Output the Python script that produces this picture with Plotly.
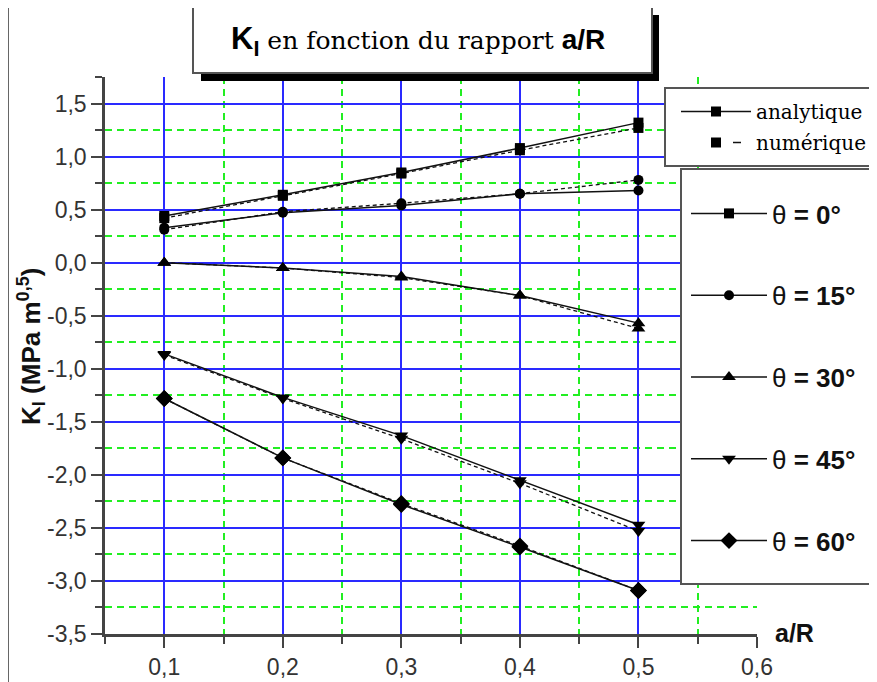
import plotly.graph_objects as go

# ---------------- data ----------------
ratio = [0.1, 0.2, 0.3, 0.4, 0.5]

ana_0 = [0.44, 0.64, 0.85, 1.08, 1.32]
num_0 = [0.42, 0.63, 0.84, 1.06, 1.27]
ana_15 = [0.33, 0.47, 0.54, 0.65, 0.68]
num_15 = [0.31, 0.48, 0.56, 0.65, 0.78]
ana_30 = [0.00, -0.05, -0.13, -0.31, -0.57]
num_30 = [0.00, -0.05, -0.14, -0.31, -0.62]
ana_45 = [-0.86, -1.27, -1.63, -2.05, -2.47]
num_45 = [-0.87, -1.28, -1.66, -2.08, -2.53]
ana_60 = [-1.28, -1.84, -2.28, -2.68, -3.09]
num_60 = [-1.28, -1.84, -2.27, -2.67, -3.09]

theta_names = ["θ<b> = 0°</b>", "θ<b> = 15°</b>", "θ<b> = 30°</b>", "θ<b> = 45°</b>", "θ<b> = 60°</b>"]

x_tickvals = [0.1, 0.2, 0.3, 0.4, 0.5, 0.6]
x_ticktext = ["0,1", "0,2", "0,3", "0,4", "0,5", "0,6"]
x_minorvals = [0.05, 0.15, 0.25, 0.35, 0.45, 0.55]
y_tickvals = [1.5, 1.0, 0.5, 0.0, -0.5, -1.0, -1.5, -2.0, -2.5, -3.0, -3.5]
y_ticktext = ["1,5", "1,0", "0,5", "0,0", "-0,5", "-1,0", "-1,5", "-2,0", "-2,5", "-3,0", "-3,5"]
y_minorvals = [1.75, 1.25, 0.75, 0.25, -0.25, -0.75, -1.25, -1.75, -2.25, -2.75, -3.25]

# ---------------- geometry (screen pixels; page body has an 8px margin) ----------------
OFF = 8
W, H = 877 - OFF, 682 - OFF
L, R, T, B = 105, 757, 77, 634  # plot area in screen pixels
def px(x):
    return (x - L) / (R - L)
def py(y):
    return (B - y) / (B - T)

analytic = [ana_0, ana_15, ana_30, ana_45, ana_60]
numeric = [num_0, num_15, num_30, num_45, num_60]
symbols = ["square", "circle", "triangle-up", "triangle-down", "diamond"]
sizes = [10, 10, 12, 12, 13]

fig = go.Figure()
for i in range(5):
    fig.add_trace(go.Scatter(
        x=ratio, y=numeric[i], mode="lines+markers",
        line=dict(color="#111111", width=1.3, dash="4px,3px"),
        marker=dict(symbol=symbols[i], size=sizes[i], color="black"),
        showlegend=False, hoverinfo="skip"))
    fig.add_trace(go.Scatter(
        x=ratio, y=analytic[i], mode="lines+markers",
        line=dict(color="#111111", width=1.5),
        marker=dict(symbol=symbols[i], size=sizes[i], color="black"),
        name=theta_names[i], legend="legend2", legendgroup="g%d" % i,
        showlegend=True))

# legend-only entries for the method legend
fig.add_trace(go.Scatter(x=[None], y=[None], mode="lines+markers", name="analytique",
                         line=dict(color="#111111", width=1.5),
                         marker=dict(symbol="square", size=10, color="black"),
                         legend="legend", legendgroup="m1"))
fig.add_trace(go.Scatter(x=[None], y=[None], mode="lines+markers", name="numérique",
                         line=dict(color="#111111", width=1.5, dash="0px,52px,8px,200px"),
                         marker=dict(symbol="square", size=10, color="black"),
                         legend="legend", legendgroup="m2"))

grid_blue = "#2a2aff"
grid_green = "#22ee22"
axis_col = "#444444"

shapes = []
# window frame lines
shapes.append(dict(type="line", xref="paper", yref="paper", x0=px(8), x1=px(900), y0=py(7), y1=py(7),
                   line=dict(color="#666666", width=2), layer="above"))
shapes.append(dict(type="line", xref="paper", yref="paper", x0=px(8), x1=px(8), y0=py(7), y1=py(700),
                   line=dict(color="#666666", width=2), layer="above"))
# title box with shadow
shapes.append(dict(type="rect", xref="paper", yref="paper", x0=px(201), x1=px(659), y0=py(15), y1=py(81),
                   fillcolor="black", line=dict(width=0), layer="above"))
shapes.append(dict(type="rect", xref="paper", yref="paper", x0=px(193), x1=px(652), y0=py(7), y1=py(73),
                   fillcolor="white", line=dict(color="#555555", width=2), layer="above"))
# legend boxes
shapes.append(dict(type="rect", xref="paper", yref="paper", x0=px(665), x1=px(890), y0=py(88), y1=py(166),
                   fillcolor="white", line=dict(color="#555555", width=2), layer="above"))
shapes.append(dict(type="rect", xref="paper", yref="paper", x0=px(681), x1=px(875), y0=py(169), y1=py(584),
                   fillcolor="white", line=dict(color="#555555", width=2), layer="above"))

annotations = [
    dict(xref="paper", yref="paper", x=px(418), y=py(41), xanchor="center", yanchor="middle", showarrow=False,
         text='<span style="font-family:Liberation Sans;font-weight:bold;font-size:31px">K<sub>I</sub></span>'
              '<span style="font-family:DejaVu Serif;font-size:25px"> en fonction du rapport </span>'
              '<span style="font-family:Liberation Sans;font-weight:bold;font-size:28px">a/R</span>',
         font=dict(color="black", size=25)),
    dict(xref="paper", yref="paper", x=px(31), y=py(346), xanchor="center", yanchor="middle", showarrow=False,
         textangle=-90, text="<b>K<sub>I</sub> (MPa m<sup>0,5</sup>)</b>",
         font=dict(family="Liberation Sans", size=26, color="#111111")),
    dict(xref="paper", yref="paper", x=px(773), y=py(633), xanchor="left", yanchor="middle", showarrow=False,
         text="<b>a/R</b>", font=dict(family="Liberation Sans", size=25, color="#111111")),
]

fig.update_layout(
    width=W, height=H,
    margin=dict(l=L - OFF, r=W - (R - OFF), t=T - OFF, b=H - (B - OFF), autoexpand=False),
    paper_bgcolor="white", plot_bgcolor="white",
    shapes=shapes, annotations=annotations,
    legend=dict(x=px(676), y=py(92), xanchor="left", yanchor="top",
                bgcolor="rgba(0,0,0,0)", borderwidth=0, itemwidth=70, tracegroupgap=2,
                font=dict(family="DejaVu Serif", size=20, color="black")),
    legend2=dict(x=px(686), y=py(190), xanchor="left", yanchor="top",
                 bgcolor="rgba(0,0,0,0)", borderwidth=0, itemwidth=76, tracegroupgap=45,
                 font=dict(family="Liberation Sans", size=26, color="#111111")),
    xaxis=dict(range=[0.05, 0.6], tickvals=x_tickvals, ticktext=x_ticktext,
               showgrid=True, gridcolor=grid_blue, gridwidth=2, zeroline=False,
               showline=True, linecolor=axis_col, linewidth=2.5,
               ticks="outside", ticklen=11, tickwidth=2, tickcolor=axis_col,
               tickfont=dict(family="Liberation Sans", size=23, color="#333333"),
               minor=dict(tickvals=x_minorvals, ticks="outside", ticklen=7, tickwidth=2, tickcolor=axis_col,
                          showgrid=True, gridcolor=grid_green, gridwidth=2, griddash="7px,5px")),
    yaxis=dict(range=[-3.5, 1.75], tickvals=y_tickvals, ticktext=y_ticktext,
               showgrid=True, gridcolor=grid_blue, gridwidth=2, zeroline=False,
               showline=True, linecolor=axis_col, linewidth=2.5,
               ticks="outside", ticklen=11, tickwidth=2, tickcolor=axis_col,
               tickfont=dict(family="Liberation Sans", size=23, color="#333333"),
               minor=dict(tickvals=y_minorvals, ticks="outside", ticklen=7, tickwidth=2, tickcolor=axis_col,
                          showgrid=True, gridcolor=grid_green, gridwidth=2, griddash="7px,5px")),
)

fig.write_html("out.html")
